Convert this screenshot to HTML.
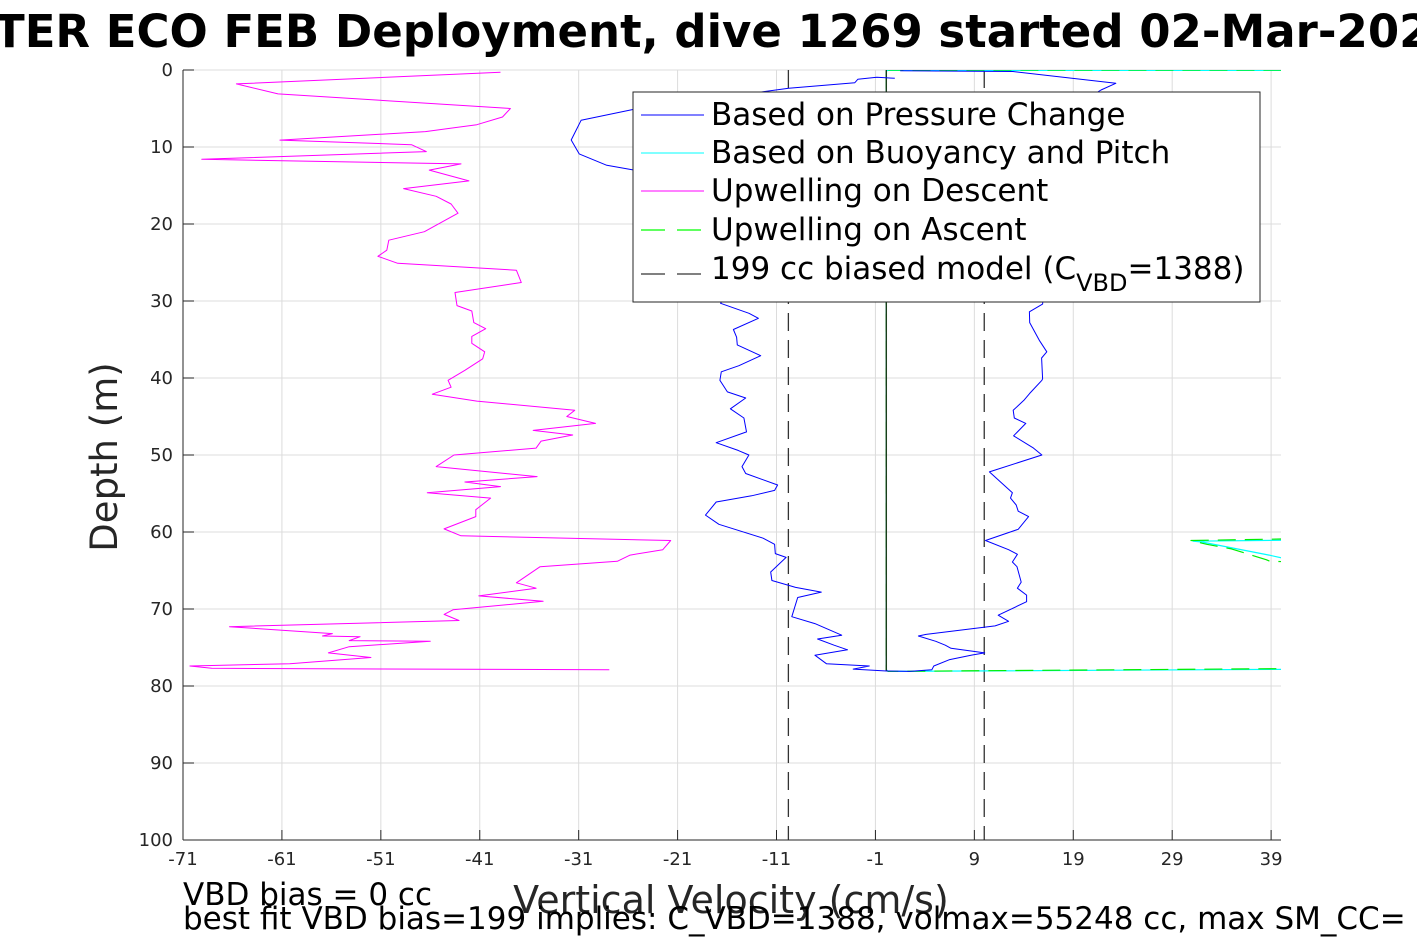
<!DOCTYPE html>
<html><head><meta charset="utf-8"><style>
html,body{margin:0;padding:0;background:#fff;width:1417px;height:945px;overflow:hidden}
svg text{font-family:"DejaVu Sans","Liberation Sans",sans-serif}
</style></head><body>
<svg id="chart" width="1417" height="945" viewBox="0 0 1417 945" xmlns="http://www.w3.org/2000/svg">
<text x="-6" y="47" font-size="45" font-weight="bold" fill="#000">TER ECO FEB Deployment, dive 1269 started 02-Mar-2024</text>
<g id="grid"></g>
<g id="plot"></g>
<g id="axes"></g>
<g>
<rect x="633" y="92" width="627" height="210" fill="#fff" stroke="#262626" stroke-width="1"/>
<line x1="641" y1="115" x2="704" y2="115" stroke="#0000ff" stroke-width="1"/>
<text x="711" y="125" font-size="31">Based on Pressure Change</text>
<line x1="641" y1="153" x2="704" y2="153" stroke="#00ffff" stroke-width="1"/>
<text x="711" y="163" font-size="31">Based on Buoyancy and Pitch</text>
<line x1="641" y1="191" x2="704" y2="191" stroke="#ff00ff" stroke-width="1"/>
<text x="711" y="201" font-size="31">Upwelling on Descent</text>
<line x1="641" y1="230" x2="704" y2="230" stroke="#00ff00" stroke-width="1.2" stroke-dasharray="24,12"/>
<text x="711" y="240" font-size="31">Upwelling on Ascent</text>
<line x1="641" y1="274" x2="704" y2="274" stroke="#000" stroke-width="1" stroke-dasharray="24,12"/>
<text x="711" y="279" font-size="31">199 cc biased model (C<tspan dy="12" font-size="24">VBD</tspan><tspan dy="-12">=1388)</tspan></text>
</g>
<text transform="translate(117,457) rotate(-90)" text-anchor="middle" font-size="37" fill="#262626">Depth (m)</text>
<text x="731" y="913" text-anchor="middle" font-size="38" fill="#262626">Vertical Velocity (cm/s)</text>
<text x="183" y="905" font-size="31">VBD bias = 0 cc</text>
<text x="183" y="929" font-size="31">best fit VBD bias=199 implies: C_VBD=1388, volmax=55248 cc, max SM_CC=</text>
</svg>
<script>
const xTicks=[-71,-61,-51,-41,-31,-21,-11,-1,9,19,29,39];
const yTicks=[0,10,20,30,40,50,60,70,80,90,100];
const descentUpV=[-38.9,-65.6,-61.4,-37.9,-38.7,-41.3,-46.5,-61.2,-47.9,-46.4,-69.1,-42.9,-46.1,-42.1,-48.7,-45.4,-43.9,-43.2,-46.6,-50.2,-50.4,-51.3,-49.3,-37.3,-36.8,-43.5,-43.3,-41.8,-41.6,-40.4,-41.8,-41.8,-40.5,-40.7,-42.5,-44.2,-43.9,-45.8,-41.3,-31.4,-32.2,-29.3,-35.6,-31.6,-34.8,-35.3,-43.6,-45.4,-35.2,-42.5,-38.9,-46.3,-39.9,-41.4,-41.4,-44.6,-42.9,-21.7,-22.5,-25.8,-27.1,-34.9,-37.3,-35.3,-41.1,-34.6,-43.7,-44.6,-43.1,-66.3,-55.9,-56.9,-53.1,-54.2,-46.0,-54.2,-56.3,-52.0,-60.2,-70.3,-68.1,-27.9];
const descentUpD=[0.3,1.8,3.1,5.0,6.1,7.1,8.0,9.1,9.7,10.6,11.6,12.2,13.0,14.4,15.4,16.4,17.4,18.6,21.0,22.1,23.4,24.2,25.1,26.0,27.6,28.9,30.6,31.3,32.8,33.6,34.6,35.5,36.6,37.5,39.0,40.3,41.2,42.1,43.0,44.2,45.0,45.9,46.8,47.4,48.2,49.1,50.0,51.5,52.8,53.5,54.1,54.9,55.6,57.1,58.0,59.6,60.5,61.1,62.3,63.0,63.8,64.5,66.6,67.3,68.3,69.0,70.1,70.7,71.5,72.3,73.2,73.5,73.6,74.1,74.2,74.9,75.7,76.3,77.1,77.4,77.7,77.9];
const pressureV=[0.96,-0.86,-2.78,-3.09,-9.77,-25.4,-30.75,-31.76,-30.95,-28.16,-25.45,-22,-19,-18,-17,-15.5,-16.65,-13.78,-12.83,-15.36,-15.03,-14.96,-12.6,-14.8,-16.58,-16.72,-15.97,-14.11,-15.66,-14.3,-14.03,-17.1,-14.88,-13.79,-14.49,-14.11,-10.89,-11.19,-13.52,-17.1,-18.18,-16.82,-12.36,-11.19,-11.12,-10.03,-11.59,-11.47,-9.07,-6.47,-8.86,-9.45,-7.12,-4.41,-6.85,-5.18,-3.82,-7.12,-5.96,-1.62,-3.25,0.12,2.45,4.7,4.9,6.45,8.78,10.05,6.64,6.06,5.1,3.34,4.12,11.1,12.46,11.41,14.28,14.28,13.35,13.74,13.31,12.85,13.35,12.46,10.13,13.43,14.48,13.43,13.23,12.65,12.85,10.52,15.83,14.98,12.97,14.2,13.04,12.93,14.01,14.6,15.83,15.9,15.8,16.32,15.57,14.6,14.56,15.9,16,15,16,15,17,20,21.8,23.3,12.9,1.5];
const pressureD=[1.08,0.95,1.21,1.65,2.38,5.1,6.53,9.09,10.9,12.38,12.99,14.5,18,22,26,28,30.3,31.6,32.25,33.7,34.7,35.7,37.1,38.4,39.2,40.3,41.8,42.6,44.0,45.2,47.0,48.4,49.4,50.0,51.5,52.4,53.9,54.6,55.3,56.1,57.8,59.0,60.8,61.6,62.8,63.3,65.2,66.3,67.2,67.8,68.5,71.0,71.9,73.4,73.9,74.7,75.3,76.0,77.1,77.4,77.8,78.05,78.1,77.9,77.4,76.6,75.97,75.7,75.1,74.7,74.2,73.5,73.3,72.2,71.6,70.8,69.05,68.2,67.3,66.5,64.5,63.9,62.9,62.3,61.1,59.65,58.0,57.3,56.5,55.6,54.9,52.2,50.0,49.1,47.5,45.9,45.2,44.2,42.9,42.0,40.3,40.1,37.4,36.6,35.1,32.8,31.4,30.4,29,25,20,14,8,4,2.6,1.73,0.2,0.1];
const buoyV=[0.1,0.1,0.3,45,45,31.1,32,38.8,45,45,0.3,0.1];
const buoyD=[0.1,77.9,78.1,77.8,61.0,61.2,61.3,63.0,64.8,0.05,0.05,0.1];
const ascentV=[0.1,0.1,0.3,45,45,30.9,32.5,35,38.5,38.9,45,45,0.3];
const ascentD=[0.1,78.0,78.1,77.7,60.8,61.1,61.6,62.2,63.6,63.8,64.0,0.0,0.0];
const modelV=[-9.8,10.0];
const X0=183,X1=1281,Y0=70,Y1=840,VMIN=-71,VMAX=40,DMIN=0,DMAX=100;
function xs(v){return X0+(v-VMIN)/(VMAX-VMIN)*(X1-X0);}
function ys(d){return Y0+(d-DMIN)/(DMAX-DMIN)*(Y1-Y0);}
const NS="http://www.w3.org/2000/svg";
const grid=document.getElementById('grid'),plot=document.getElementById('plot'),axes=document.getElementById('axes');
function mk(tag,attrs,parent){const e=document.createElementNS(NS,tag);for(const k in attrs)e.setAttribute(k,attrs[k]);parent.appendChild(e);return e;}
const clip=mk('clipPath',{id:'pc'},document.getElementById('chart'));
mk('rect',{x:X0,y:Y0,width:X1-X0,height:Y1-Y0},clip);
plot.setAttribute('clip-path','url(#pc)');
xTicks.forEach(t=>{
 const g=mk('line',{x1:xs(t),x2:xs(t),y1:Y0,y2:Y1,stroke:'#dcdcdc','stroke-width':1},grid);
 
 
 const tk=mk('line',{x1:xs(t),x2:xs(t),y1:Y1,y2:Y1-10,stroke:'#262626','stroke-width':1},axes);
 
 
 const lb=mk('text',{x:xs(t),y:Y1+25,'text-anchor':'middle','font-size':18,fill:'#262626'},axes);
 lb.textContent=t;
 
 
});
yTicks.forEach(t=>{
 const g=mk('line',{x1:X0,x2:X1,y1:ys(t),y2:ys(t),stroke:'#dcdcdc','stroke-width':1},grid);
 
 
 const tk=mk('line',{x1:X0,x2:X0+11,y1:ys(t),y2:ys(t),stroke:'#262626','stroke-width':1},axes);
 
 
 const lb=mk('text',{x:X0-10,y:ys(t)+6,'text-anchor':'end','font-size':18,fill:'#262626'},axes);
 lb.textContent=t;
 
 
});
const ax1=mk('line',{x1:X0,x2:X0,y1:Y0,y2:Y1,stroke:'#262626','stroke-width':1},axes);


const ax2=mk('line',{x1:X0,x2:X1,y1:Y1,y2:Y1,stroke:'#262626','stroke-width':1},axes);


function series(V,D,color,dash,name,w){
 const pts=V.map((v,i)=>xs(v).toFixed(1)+','+ys(D[i]).toFixed(1)).join(' ');
 const p=mk('polyline',{points:pts,fill:'none',stroke:color,'stroke-width':w||1,'stroke-linejoin':'round'},plot);
 if(dash)p.setAttribute('stroke-dasharray',dash);
 
 
}
modelV.forEach(v=>{
 const l=mk('line',{x1:xs(v),x2:xs(v),y1:Y0,y2:Y1,stroke:'#333','stroke-width':1.3,'stroke-dasharray':'18,9'},plot);
 
 
});
series(descentUpV,descentUpD,'#ff00ff',null,'upwelling-descent-line');
series(buoyV,buoyD,'#00ffff',null,'buoyancy-pitch-line',1.2);
series(ascentV,ascentD,'#00ee00','18,9','upwelling-ascent-line',1.2);
const vl=mk('line',{x1:xs(0.1),x2:xs(0.1),y1:ys(0),y2:ys(78),stroke:'#1a3d1a','stroke-width':1.4},plot);


series(pressureV,pressureD,'#0000ff',null,'pressure-change-line');
</script>
</body></html>
